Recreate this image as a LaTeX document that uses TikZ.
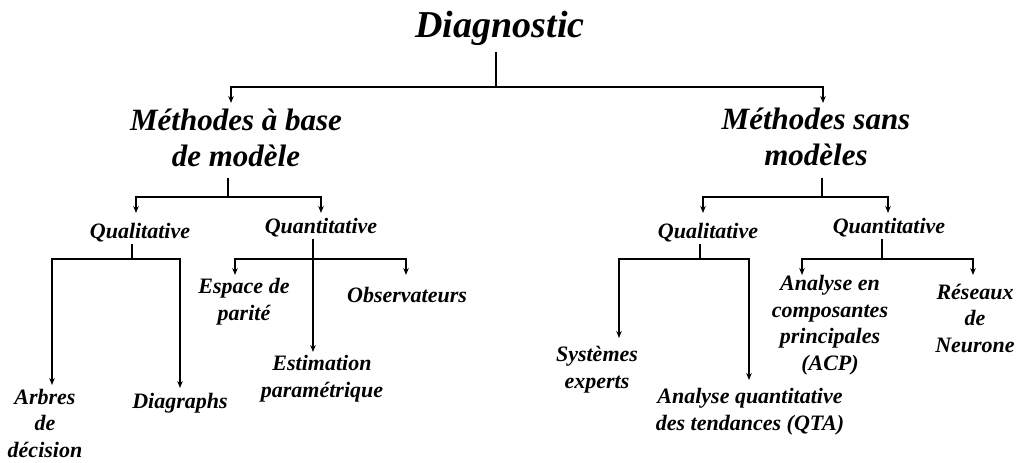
\documentclass[tikz,border=0pt]{standalone}
\usepackage{fontspec}
\setmainfont{Liberation Serif}
\usetikzlibrary{arrows.meta}
\begin{document}
\begin{tikzpicture}[x=1pt,y=-1pt,
  lbl/.style={anchor=base,inner sep=0pt,align=center,font=\bfseries\itshape},
  big/.style={lbl,font=\fontsize{38}{44}\selectfont\bfseries\itshape},
  mid/.style={lbl,font=\fontsize{31}{36}\selectfont\bfseries\itshape},
  small/.style={lbl,font=\fontsize{22}{26.5}\selectfont\bfseries\itshape},
  wire/.style={line width=1.2pt,black},
  arr/.style={wire,-{Stealth[length=7pt,width=5.5pt]}}]
\useasboundingbox (0,0) rectangle (1017,463);

% root (multi-line labels are placed by the baseline of their last line)
\node[big] (diag) at (500,37) {Diagnostic};

% first level
\node[mid] (mab) at (236,166) {Méthodes à base\\de modèle};
\node[mid] (msm) at (816,165) {Méthodes sans\\modèles};

% second level
\node[small] (qualL)  at (140,238) {Qualitative};
\node[small] (quantL) at (321,233) {Quantitative};
\node[small] (qualR)  at (708,238) {Qualitative};
\node[small] (quantR) at (889,233) {Quantitative};

% leaves
\node[small] (arbres) at (45,457)  {Arbres\\de\\décision};
\node[small] (digr)   at (180,408) {Diagraphs};
\node[small] (espace) at (244,320) {Espace de\\parité};
\node[small] (obs)    at (407,302) {Observateurs};
\node[small] (estim)  at (322,397) {Estimation\\paramétrique};
\node[small] (sysexp) at (597,388) {Systèmes\\experts};
\node[small] (qta)    at (750,430) {Analyse quantitative\\des tendances (QTA)};
\node[small] (acp)    at (830,370) {Analyse en\\composantes\\principales\\(ACP)};
\node[small] (rn)     at (975,352) {Réseaux\\de\\Neurone};

% junctions and arrow ends
\coordinate (dj) at (496,87);
\coordinate (t-mab) at (231,103);
\coordinate (t-msm) at (823,103);

\coordinate (mabj) at (228,197);
\coordinate (t-qualL) at (136,213);
\coordinate (t-quantL) at (321,213);

\coordinate (msmj) at (822,197);
\coordinate (t-qualR) at (703,213);
\coordinate (t-quantR) at (888,213);

\coordinate (qlLj) at (132,259);
\coordinate (t-arbres) at (52,385);
\coordinate (t-digr) at (180,388);

\coordinate (qnLj) at (313,259);
\coordinate (t-espace) at (235,275);
\coordinate (t-obs) at (406,275);
\coordinate (t-estim) at (313,352);

\coordinate (qlRj) at (700,259);
\coordinate (t-sysexp) at (619,338);
\coordinate (t-qta) at (749,380);

\coordinate (qnRj) at (882,259);
\coordinate (t-acp) at (802,275);
\coordinate (t-rn) at (973,275);

% Diagnostic
\draw[wire,shorten <=7pt] (diag.south -| dj) -- (dj);
\draw[arr] (dj) -| (t-mab);
\draw[arr] (dj) -| (t-msm);

% model-based methods
\draw[wire,shorten <=11pt] (mab.south -| mabj) -- (mabj);
\draw[arr] (mabj) -| (t-qualL);
\draw[arr] (mabj) -| (t-quantL);

% model-free methods
\draw[wire,shorten <=12pt] (msm.south -| msmj) -- (msmj);
\draw[arr] (msmj) -| (t-qualR);
\draw[arr] (msmj) -| (t-quantR);

% qualitative (model-based)
\draw[wire,shorten <=2pt] (qualL.south -| qlLj) -- (qlLj);
\draw[arr] (qlLj) -| (t-arbres);
\draw[arr] (qlLj) -| (t-digr);

% quantitative (model-based)
\draw[arr,shorten <=2pt] (quantL.south -| qnLj) -- (t-estim);
\draw[arr] (qnLj) -| (t-espace);
\draw[arr] (qnLj) -| (t-obs);

% qualitative (model-free)
\draw[wire,shorten <=2pt] (qualR.south -| qlRj) -- (qlRj);
\draw[arr] (qlRj) -| (t-sysexp);
\draw[arr] (qlRj) -| (t-qta);

% quantitative (model-free)
\draw[wire,shorten <=2pt] (quantR.south -| qnRj) -- (qnRj);
\draw[arr] (qnRj) -| (t-acp);
\draw[arr] (qnRj) -| (t-rn);
\end{tikzpicture}
\end{document}
